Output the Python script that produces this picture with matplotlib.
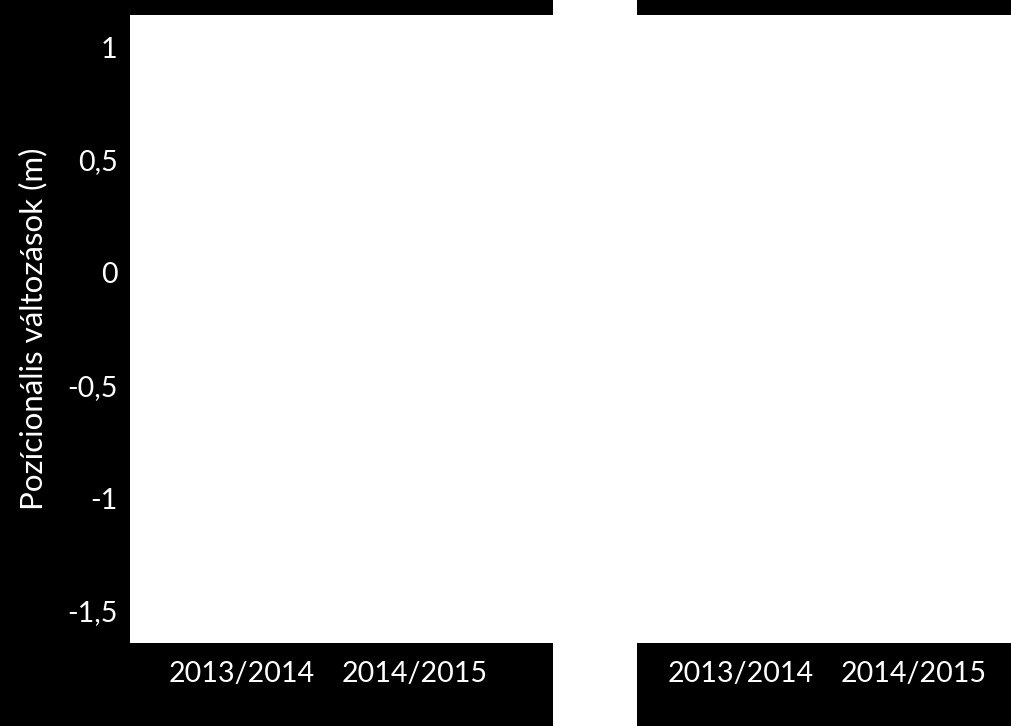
import matplotlib
matplotlib.use("Agg")
import matplotlib.pyplot as plt
from matplotlib.patches import Rectangle

# categories on both panels
seasons = ["2013/2014", "2014/2015"]
y_ticks = [1, 0.5, 0, -0.5, -1, -1.5]
y_labels = ["1", "0,5", "0", "-0,5", "-1", "-1,5"]

plt.rcParams['font.family'] = ['Lato', 'DejaVu Sans']

fig = plt.figure(figsize=(10.12, 7.26), dpi=100, facecolor="black")
# white strip between the two panels
fig.patches.append(Rectangle((553 / 1012, 0), 84 / 1012, 1, transform=fig.transFigure,
                             facecolor="white", edgecolor="none", zorder=0))

ax1 = fig.add_axes([130 / 1012, 83 / 726, 423 / 1012, 628 / 726])
ax2 = fig.add_axes([637 / 1012, 83 / 726, 375 / 1012, 628 / 726])

for ax, xl in ((ax1, (-0.648, 1.797)), (ax2, (-0.604, 1.574))):
    ax.set_facecolor("white")
    ax.set_xlim(*xl)
    ax.set_ylim(-1.642, 1.142)
    ax.set_xticks(range(len(seasons)))
    ax.set_xticklabels(seasons, fontsize=20.6, color="white")
    ax.tick_params(axis="x", length=0, pad=13)
    for s in ax.spines.values():
        s.set_visible(False)

ax1.set_yticks(y_ticks)
ax1.set_yticklabels(y_labels, fontsize=20.6, color="white")
ax1.tick_params(axis="y", length=0, pad=9)
ax1.set_ylabel("Pozícionális változások (m)", fontsize=22.5, color="white", labelpad=14)
ax2.set_yticks([])

fig.savefig("out.png", dpi=100, facecolor=fig.get_facecolor())
